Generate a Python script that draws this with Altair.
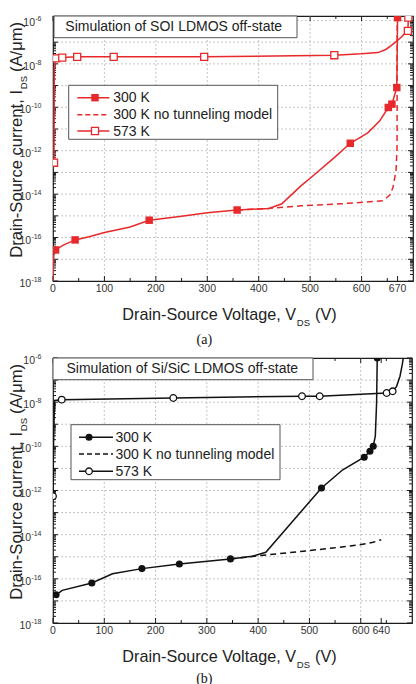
import altair as alt
import pandas as pd

SANS = "Liberation Sans"
SERIF = "Liberation Serif"
RED = "#e8292b"
BLACK = "#111111"
INK = "#222222"
FRAME = "#1c1c1c"

# ---------------- (a) SOI LDMOS, off-state sweeps ----------------
soi_300k_v = [0, 1.5, 5, 20, 43, 70, 100, 150, 187, 250, 300, 358, 420, 445, 465, 482,
              500, 547, 578, 612, 635, 652, 659, 668.5, 670]
soi_300k_i = [1e-18, 1.5e-17, 2.7e-17, 4.5e-17, 7.8e-17, 1.1e-16, 1.7e-16, 3.1e-16, 6.3e-16,
              9.6e-16, 1.4e-15, 1.86e-15, 2.2e-15, 3.6e-15, 1e-14, 2.4e-14,
              5.4e-14, 4.8e-13, 2.2e-12, 6.7e-12, 2.3e-11, 9.8e-11, 1.4e-10, 8.1e-10, 1.35e-6]
soi_300k_mark_v = [5, 43, 187, 358, 578, 652, 659, 668.5, 670]
soi_300k_mark_i = [2.7e-17, 7.8e-17, 6.3e-16, 1.86e-15, 2.2e-12, 9.8e-11, 1.4e-10, 8.1e-10, 1.35e-6]

soi_nt_v = [358, 420, 482, 560, 641, 655, 661, 667, 669, 669.3]
soi_nt_i = [1.86e-15, 2.2e-15, 2.9e-15, 3.6e-15, 4.9e-15, 9e-15, 2e-14, 1.2e-13, 1.4e-12, 1.6e-6]

soi_573k_v = [2, 2.5, 6, 18, 47, 118, 294, 547, 600, 632, 647, 657, 667, 676, 686, 690, 691]
soi_573k_i = [2.8e-13, 8e-9, 1.8e-8, 1.95e-8, 2.1e-8, 2.1e-8, 2.1e-8, 2.5e-8, 2.9e-8,
              3.3e-8, 4.6e-8, 6.8e-8, 1.05e-7, 1.6e-7, 2.8e-7, 3.3e-7, 1.35e-6]
soi_573k_mark_v = [2, 6, 18, 47, 118, 294, 547, 690, 691]
soi_573k_mark_i = [2.8e-13, 1.8e-8, 1.95e-8, 2.1e-8, 2.1e-8, 2.1e-8, 2.5e-8, 3.3e-7, 1.35e-6]

# ---------------- (b) Si/SiC LDMOS, off-state sweeps ----------------
sic_300k_v = [0, 6, 18, 75.7, 116, 173.4, 246.4, 346, 388.5, 415, 523.5, 565, 606.8, 618,
              624.4, 628.5, 631, 632.2]
sic_300k_i = [1.6e-17, 1.9e-17, 3.0e-17, 6.5e-17, 1.7e-16, 2.9e-16, 4.7e-16, 8.0e-16, 1.05e-15,
              1.6e-15, 1.3e-12, 8.7e-12, 3.2e-11, 6e-11, 1.0e-10, 3e-10, 1e-8, 1e-6]
sic_300k_mark_v = [6, 75.7, 173.4, 246.4, 346, 523.5, 606.8, 618, 624.4, 632.2]
sic_300k_mark_i = [1.9e-17, 6.5e-17, 2.9e-16, 4.7e-16, 8.0e-16, 1.3e-12, 3.2e-11, 6e-11, 1.0e-10, 1e-6]

sic_nt_v = [346, 400, 480, 546, 598, 624, 640]
sic_nt_i = [8.0e-16, 1.1e-15, 1.7e-15, 2.5e-15, 3.5e-15, 4.5e-15, 5.9e-15]

sic_573k_v = [0, 1, 3, 17, 234.6, 485.5, 520, 650.6, 662.3, 670, 676.6, 681, 683]
sic_573k_i = [5.5e-13, 1e-10, 1.2e-8, 1.3e-8, 1.55e-8, 1.86e-8, 1.86e-8, 2.6e-8, 3.1e-8,
              5.2e-8, 1.5e-7, 5e-7, 1e-6]
sic_573k_mark_v = [0, 17, 234.6, 485.5, 520, 650.6, 662.3]
sic_573k_mark_i = [5.5e-13, 1.3e-8, 1.55e-8, 1.86e-8, 1.86e-8, 2.6e-8, 3.1e-8]

# ---------------- shared text and axis values ----------------
series_labels = ["300 K", "300 K no tunneling model", "573 K"]
panel_titles = ["Simulation of SOI LDMOS off-state", "Simulation of Si/SiC LDMOS off-state"]
panel_tags = ["(a)", "(b)"]
x_ticks_a = [0, 100, 200, 300, 400, 500, 600, 670]
x_ticks_b = [0, 100, 200, 300, 400, 500, 600, 640]
x_minor = [50, 150, 250, 350, 450, 550, 650]
x_grid = [100, 200, 300, 400, 500, 600]
y_label_exp = [-18, -16, -14, -12, -10, -8, -6]
x_title_parts = ["Drain-Source Voltage, V", "DS", "(V)"]
y_title_parts = ["Drain-Source current, I", "DS", "(A/\u03bcm)"]

one = pd.DataFrame({"k": [0]})


def table(v, i):
    return pd.DataFrame({"v": v, "i": i})


def build_panel(p):
    W, H, ytop = p["w"], p["h"], p["ytop"]
    colour = p["colour"]
    xs = alt.Scale(domain=[0, 700], nice=False, zero=False)
    ys = alt.Scale(type="log", domain=[1e-18, ytop], nice=False)

    def X(f):
        return alt.X(f"{f}:Q", scale=xs, axis=None)

    def Y(f):
        return alt.Y(f"{f}:Q", scale=ys, axis=None)

    decades = [10.0 ** e for e in range(-18, -5)]
    minors = [k * 10.0 ** e for e in range(-18, -6) for k in range(2, 10)]
    minors = [m for m in minors if m < ytop]
    grid_y = [d for d in decades if 1e-18 < d < ytop * 0.9]

    L = []
    # invisible extent marker that fixes the panel's outer box
    L.append(alt.Chart(one).mark_rule(opacity=0).encode(
        x=alt.value(p["anchor"][0]), y=alt.value(p["anchor"][1]), y2=alt.value(p["anchor"][2])))

    # dotted grid
    grid_style = dict(color="#b8b8b8", strokeWidth=0.8, strokeDash=[2, 2])
    L.append(alt.Chart(pd.DataFrame({"v": x_grid})).mark_rule(**grid_style).encode(
        x=X("v"), y=alt.value(0), y2=alt.value(H)))
    L.append(alt.Chart(pd.DataFrame({"i": grid_y})).mark_rule(**grid_style).encode(
        y=Y("i"), x=alt.value(0), x2=alt.value(W)))

    # inward ticks on all four sides
    tk = dict(color=FRAME, strokeWidth=1)
    xmaj = pd.DataFrame({"v": p["xticks"]})
    xmin = pd.DataFrame({"v": x_minor})
    L.append(alt.Chart(xmaj).mark_rule(**tk).encode(x=X("v"), y=alt.value(H), y2=alt.value(H - 5)))
    L.append(alt.Chart(xmaj).mark_rule(**tk).encode(x=X("v"), y=alt.value(0), y2=alt.value(5)))
    L.append(alt.Chart(xmin).mark_rule(**tk).encode(x=X("v"), y=alt.value(H), y2=alt.value(H - 3)))
    L.append(alt.Chart(xmin).mark_rule(**tk).encode(x=X("v"), y=alt.value(0), y2=alt.value(3)))
    ymaj = pd.DataFrame({"i": [d for d in decades if d <= ytop]})
    ymin = pd.DataFrame({"i": minors})
    L.append(alt.Chart(ymaj).mark_rule(**tk).encode(y=Y("i"), x=alt.value(0), x2=alt.value(5)))
    L.append(alt.Chart(ymaj).mark_rule(**tk).encode(y=Y("i"), x=alt.value(W - 5), x2=alt.value(W)))
    L.append(alt.Chart(ymin).mark_rule(**tk).encode(y=Y("i"), x=alt.value(0), x2=alt.value(3)))
    L.append(alt.Chart(ymin).mark_rule(**tk).encode(y=Y("i"), x=alt.value(W - 3), x2=alt.value(W)))

    # curves
    lw = 1.5
    L.append(alt.Chart(table(p["nt_v"], p["nt_i"])).mark_line(
        color=colour, strokeWidth=lw, strokeDash=[6, 4], clip=True
    ).encode(x=X("v"), y=Y("i")))
    L.append(alt.Chart(table(p["hot_v"], p["hot_i"])).mark_line(
        color=colour, strokeWidth=lw, clip=True
    ).encode(x=X("v"), y=Y("i")))
    L.append(alt.Chart(table(p["cold_v"], p["cold_i"])).mark_line(
        color=colour, strokeWidth=lw, clip=True
    ).encode(x=X("v"), y=Y("i")))

    # symbols
    if p["shape"] == "square":
        filled_mark = dict(shape="square", size=56, color=colour, filled=True, opacity=1)
        open_mark = dict(shape="square", size=50, fill="white", stroke=colour, filled=True,
                         strokeWidth=1.3, opacity=1)
    else:
        filled_mark = dict(shape="circle", size=50, color=colour, filled=True, opacity=1)
        open_mark = dict(shape="circle", size=44, fill="white", stroke=colour, filled=True,
                         strokeWidth=1.3, opacity=1)
    L.append(alt.Chart(table(p["hot_mv"], p["hot_mi"])).mark_point(**open_mark, clip=True).encode(
        x=X("v"), y=Y("i")))
    L.append(alt.Chart(table(p["cold_mv"], p["cold_mi"])).mark_point(**filled_mark, clip=True).encode(
        x=X("v"), y=Y("i")))

    # title box
    tb = p["title_box"]
    L.append(alt.Chart(one).mark_rect(fill="white", stroke="#555555", strokeWidth=1).encode(
        x=alt.value(tb[0]), x2=alt.value(tb[1]), y=alt.value(tb[2]), y2=alt.value(tb[3])))
    L.append(alt.Chart(one).mark_text(
        text=p["title"], align="left", baseline="middle", font=SANS, fontSize=14, color=INK
    ).encode(x=alt.value(p["title_x"]), y=alt.value((tb[2] + tb[3]) / 2 + 0.5)))

    # legend
    lb = p["legend_box"]
    L.append(alt.Chart(one).mark_rect(fill="white", stroke="#555555", strokeWidth=1).encode(
        x=alt.value(lb[0]), x2=alt.value(lb[1]), y=alt.value(lb[2]), y2=alt.value(lb[3])))
    lx0, lx1 = p["legend_line"]
    for k, label in enumerate(series_labels):
        ry = p["legend_rows"][k]
        rule_kw = dict(color=colour, strokeWidth=lw)
        if k == 1:
            rule_kw["strokeDash"] = [5, 3]
        L.append(alt.Chart(one).mark_rule(**rule_kw).encode(
            x=alt.value(lx0), x2=alt.value(lx1), y=alt.value(ry)))
        if k == 0:
            L.append(alt.Chart(one).mark_point(**filled_mark).encode(
                x=alt.value(p["legend_mark"]), y=alt.value(ry)))
        if k == 2:
            L.append(alt.Chart(one).mark_point(**open_mark).encode(
                x=alt.value(p["legend_mark"]), y=alt.value(ry)))
        L.append(alt.Chart(one).mark_text(
            text=label, align="left", baseline="middle", font=SANS, fontSize=14, color=INK
        ).encode(x=alt.value(p["legend_text"]), y=alt.value(ry + 0.5)))

    # y tick labels: "10" with raised exponent
    ylab = pd.DataFrame({"i": [10.0 ** e for e in y_label_exp], "exp": [str(e) for e in y_label_exp]})
    er = p["ylab_right"]
    for n in (2, 3):
        expw = 7 * (0.333 + 0.556 * (n - 1))
        base = alt.Chart(ylab).transform_filter(f"length(datum.exp) == {n}")
        L.append(base.mark_text(text="10", align="right", baseline="middle", font=SANS,
                                fontSize=10.5, color="#333333", dy=3).encode(
            x=alt.value(er - expw - 0.3), y=Y("i")))
        L.append(base.mark_text(align="right", baseline="middle", font=SANS,
                                fontSize=7, color="#333333", dy=-1).encode(
            x=alt.value(er), y=Y("i"), text="exp:N"))

    # x tick labels
    L.append(alt.Chart(xmaj).mark_text(
        align="center", baseline="middle", font=SANS, fontSize=10.5, color="#333333"
    ).encode(x=X("v"), y=alt.value(H + 7.5), text="v:N"))

    # x title with subscript
    xr, xb = p["xtitle"]
    L.append(alt.Chart(one).mark_text(text=x_title_parts[0], align="right", baseline="alphabetic",
                                      font=SANS, fontSize=16.2, color=INK).encode(
        x=alt.value(xr), y=alt.value(xb)))
    L.append(alt.Chart(one).mark_text(text=x_title_parts[1], align="left", baseline="alphabetic",
                                      font=SANS, fontSize=9.5, color=INK).encode(
        x=alt.value(xr + 0.8), y=alt.value(xb + 5.5)))
    L.append(alt.Chart(one).mark_text(text=x_title_parts[2], align="left", baseline="alphabetic",
                                      font=SANS, fontSize=16.2, color=INK).encode(
        x=alt.value(xr + 19), y=alt.value(xb)))

    # y title with subscript (reads bottom to top)
    yx, ye = p["ytitle"]
    L.append(alt.Chart(one).mark_text(text=y_title_parts[0], align="right", baseline="alphabetic",
                                      angle=270, font=SANS, fontSize=16.6, color=INK).encode(
        x=alt.value(yx), y=alt.value(ye)))
    L.append(alt.Chart(one).mark_text(text=y_title_parts[1], align="left", baseline="alphabetic",
                                      angle=270, font=SANS, fontSize=9.5, color=INK).encode(
        x=alt.value(yx + 5), y=alt.value(ye - 0.8)))
    L.append(alt.Chart(one).mark_text(text=y_title_parts[2], align="left", baseline="alphabetic",
                                      angle=270, font=SANS, fontSize=16.6, color=INK).encode(
        x=alt.value(yx), y=alt.value(ye - 18)))

    # panel tag
    L.append(alt.Chart(one).mark_text(text=p["tag"], align="center", baseline="middle",
                                      font=SERIF, fontSize=14, color="#111111").encode(
        x=alt.value(p["tag_xy"][0]), y=alt.value(p["tag_xy"][1])))

    return alt.layer(*L).properties(width=W, height=H)


panel_a = build_panel(dict(
    w=360, h=265, ytop=1.6e-6, colour=RED, shape="square",
    xticks=x_ticks_a, anchor=(-52, -15, 335),
    cold_v=soi_300k_v, cold_i=soi_300k_i, cold_mv=soi_300k_mark_v, cold_mi=soi_300k_mark_i,
    nt_v=soi_nt_v, nt_i=soi_nt_i,
    hot_v=soi_573k_v, hot_i=soi_573k_i, hot_mv=soi_573k_mark_v, hot_mi=soi_573k_mark_i,
    title=panel_titles[0], title_box=(1, 244, 0, 21.7), title_x=12.3,
    legend_box=(15.7, 224.7, 69.3, 123.3), legend_rows=(81.7, 98.7, 115),
    legend_line=(24.3, 56.3), legend_mark=42, legend_text=60.3,
    ylab_right=-11.5, xtitle=(243, 304.3), ytitle=(-31, 74),
    tag=panel_tags[0], tag_xy=(151.3, 324),
))

panel_b = build_panel(dict(
    w=359, h=265, ytop=1e-6, colour=BLACK, shape="circle",
    xticks=x_ticks_b, anchor=(-52, -5, 329),
    cold_v=sic_300k_v, cold_i=sic_300k_i, cold_mv=sic_300k_mark_v, cold_mi=sic_300k_mark_i,
    nt_v=sic_nt_v, nt_i=sic_nt_i,
    hot_v=sic_573k_v, hot_i=sic_573k_i, hot_mv=sic_573k_mark_v, hot_mi=sic_573k_mark_i,
    title=panel_titles[1], title_box=(0, 260, 0, 21.7), title_x=13.5,
    legend_box=(18, 227, 66.7, 121.7), legend_rows=(79.3, 96, 113.3),
    legend_line=(26, 60), legend_mark=36, legend_text=62.5,
    ylab_right=-11.5, xtitle=(243, 304.3), ytitle=(-31, 74),
    tag=panel_tags[1], tag_xy=(151.3, 320.5),
))

chart = (
    alt.vconcat(panel_a, panel_b, spacing=0)
    .properties(padding=0, background="white")
    .configure_view(stroke=FRAME, strokeWidth=1.2)
)

chart.save("out.html", embed_options={"renderer": "svg", "actions": False})
